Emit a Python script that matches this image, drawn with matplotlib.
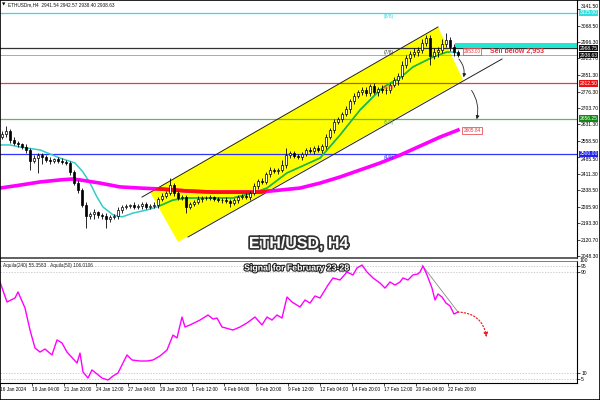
import matplotlib
matplotlib.use('Agg')
import matplotlib.pyplot as plt
import matplotlib.patheffects as pe
import matplotlib.transforms as mtransforms
from matplotlib.patches import Polygon, Rectangle

plt.rcParams['font.family'] = ['Liberation Sans', 'DejaVu Sans']

# ---- ETH/USD H4 data (x in 4h-bar units, one candle per 8h) ----
first_open = 2575
closes = [2589, 2602, 2562, 2549, 2544, 2531, 2518, 2469, 2482, 2496,
          2487, 2473, 2469, 2478, 2469, 2465, 2460, 2420, 2371, 2340,
          2274, 2225, 2234, 2243, 2230, 2225, 2212, 2221, 2225, 2252,
          2265, 2269, 2274, 2265, 2269, 2278, 2265, 2269, 2274, 2300,
          2314, 2327, 2363, 2327, 2305, 2309, 2265, 2278, 2287, 2300,
          2305, 2305, 2309, 2300, 2296, 2296, 2292, 2283, 2296, 2309,
          2314, 2309, 2327, 2358, 2380, 2376, 2411, 2429, 2425, 2429,
          2451, 2496, 2504, 2491, 2487, 2500, 2518, 2513, 2527, 2518,
          2535, 2575, 2606, 2642, 2655, 2677, 2699, 2735, 2757, 2775,
          2784, 2770, 2802, 2775, 2788, 2784, 2784, 2806, 2828, 2846,
          2895, 2926, 2943, 2952, 2961, 2992, 3014, 2934, 2952, 2961,
          2988, 3005, 2974, 2952, 2939]
wick_up = [15, 20, 8, 12, 10, 6, 14, 9, 12, 7,
           10, 8, 12, 6, 9, 11, 7, 10, 8, 14,
           9, 12, 8, 15, 6, 10, 12, 9, 7, 11,
           8, 10, 6, 12, 9, 7, 10, 8, 11, 9,
           12, 10, 31, 8, 11, 9, 7, 10, 8, 12,
           9, 7, 10, 6, 11, 8, 12, 9, 7, 10,
           8, 11, 9, 14, 10, 12, 8, 15, 10, 9,
           22, 30, 9, 8, 11, 10, 9, 13, 8, 15,
           10, 12, 9, 14, 11, 10, 13, 9, 12, 10,
           14, 11, 9, 12, 10, 16, 13, 10, 15, 12,
           18, 14, 12, 20, 15, 18, 13, 12, 16, 14,
           22, 31, 15, 12, 8]
wick_dn = [10, 12, 15, 8, 11, 9, 13, 40, 10, 65,
           30, 9, 12, 10, 8, 11, 9, 13, 10, 12,
           10, 53, 12, 20, 12, 14, 42, 12, 9, 11,
           12, 8, 10, 9, 11, 13, 8, 10, 9, 12,
           10, 8, 9, 12, 10, 8, 27, 11, 9, 10,
           12, 8, 10, 9, 11, 13, 10, 18, 9, 12,
           10, 8, 11, 9, 12, 10, 8, 14, 10, 12,
           9, 11, 13, 10, 8, 12, 10, 9, 11, 10,
           14, 12, 10, 15, 11, 13, 10, 18, 12, 10,
           15, 12, 14, 10, 16, 12, 18, 14, 10, 20,
           15, 14, 18, 12, 16, 14, 12, 40, 15, 20,
           14, 12, 18, 16, 10]

# moving averages (fast = turquoise, slow = magenta)
ma_fast_x = [0, 5, 10, 20, 30, 37.5, 41.5, 45, 48.5, 51.5, 56.5, 61, 66.5, 73.5, 78.5, 86.5,
             93.5, 103.5, 116.5, 126.5, 133.5, 143.5, 150, 160, 170, 180, 190, 193.5, 200,
             206.5, 211.5, 216.5, 223.5, 226, 228.5]
ma_fast = [2540, 2540, 2531, 2518, 2482, 2460, 2420, 2371, 2309, 2265, 2230, 2221, 2238, 2252,
           2265, 2296, 2305, 2305, 2305, 2327, 2349, 2416, 2442, 2482, 2584, 2695, 2784, 2806,
           2837, 2886, 2908, 2930, 2952, 2952, 2948]
ma_slow_x = [0, 10, 20, 30, 36, 40, 50, 60, 70, 80, 93.5, 106.5, 120, 130, 140, 150, 160, 170,
             180, 190, 200, 210, 220, 229]
ma_slow = [2349, 2362, 2376, 2385, 2389, 2385, 2371, 2354, 2349, 2345, 2336, 2331, 2331, 2331,
           2340, 2349, 2371, 2398, 2429, 2460, 2495, 2535, 2575, 2606]

# Aquila oscillator
osc_x = [0, 3.5, 7.5, 9, 12.5, 15, 17.5, 20, 22.5, 26, 28.5, 31, 33.5, 38.5, 40, 41.5, 44, 46,
         48.5, 51, 54, 56.5, 59, 63.5, 66, 70, 73.5, 76.5, 80, 83.5, 86.5, 88.5, 91, 92.5, 95,
         100, 104, 106.5, 108.5, 111, 116.5, 120, 123.5, 127.5, 131, 133.5, 136, 138.5, 141,
         143.5, 146, 150, 152.5, 155, 157.5, 160, 162.5, 164, 166.5, 170, 173.5, 176.5, 178.5,
         181, 183.5, 186.5, 190, 192.5, 195, 197.5, 200, 201.5, 204, 206.5, 209, 210, 211.5,
         213.5, 216, 217.5, 219, 221, 223, 225, 227, 229]
osc = [82.3, 66.4, 69.6, 74.4, 61.7, 44.2, 29.9, 26.7, 29.1, 24.4,
       36.3, 33.9, 26.7, 18.0, 25.9, 10.9, 6.1, 12.5, 9.3, 6.1,
       4.5, 7.7, 10.1, 24.4, 20.4, 19.6, 19.6, 20.4, 23.6, 28.3,
       40.2, 37.9, 54.5, 46.6, 48.2, 52.1, 56.1, 52.9, 53.7, 46.6,
       44.2, 46.6, 49.8, 54.5, 48.2, 54.5, 52.1, 56.1, 53.7, 70.4,
       66.4, 62.5, 68.0, 65.6, 71.2, 69.6, 76.0, 79.9, 85.5, 83.9,
       90.2, 87.9, 93.4, 95.8, 90.2, 85.5, 81.5, 77.5, 82.3, 79.9,
       82.3, 85.5, 83.9, 87.9, 88.7, 90.2, 95.0, 87.9, 77.5, 68.0,
       72.8, 70.4, 65.6, 63.3, 56.9, 58.5]

# Murrey math levels
murrey_levels = [3125.00, 2968.75, 2812.50, 2656.25, 2500.00]
murrey_names = ['(8/8)', '(7/8)', '(6/8)', '(5/8)', '(4/8)']
murrey_colors = ['#33dddd', '#333333', '#e04040', '#66b266', '#3333ff']
last_price = 2938.63

# ascending channel
chan_upper_x = [71, 219]
chan_upper_p = [2309, 3063]
chan_lower_x = [94, 251]
chan_lower_p = [2132, 2921]
chan_fill_x = [75, 219, 231.5, 89]
chan_fill_p = [2331, 3063, 2828, 2110]

price_ticks = [3141.50, 3068.50, 2996.30, 2923.70, 2851.30, 2776.30, 2703.70, 2631.30,
               2558.50, 2485.50, 2411.30, 2338.50, 2265.90, 2193.30, 2120.70, 2048.30]
osc_ticks = [95, 90, 10, 5]
time_ticks = [0, 16, 32, 48, 64, 80, 96, 112, 128, 144, 160, 176, 192, 208, 224]
time_labels = ['16 Jan 2024', '19 Jan 04:00', '21 Jan 20:00', '24 Jan 12:00', '27 Jan 04:00',
               '29 Jan 20:00', '1 Feb 12:00', '4 Feb 04:00', '6 Feb 20:00', '9 Feb 12:00',
               '12 Feb 04:00', '14 Feb 20:00', '17 Feb 12:00', '20 Feb 04:00', '22 Feb 20:00']

sell_level = 2953.00
target_level = 2605.84

fig = plt.figure(figsize=(6, 4), dpi=100)
ax = fig.add_axes([0, 1 - 258 / 400, 577 / 600, 258 / 400])
ax2 = fig.add_axes([0, 1 - 383 / 400, 577 / 600, 122 / 400])

xmax = 577 / 2
ax.set_xlim(0, xmax)
ax.set_ylim(2038.9, 3182.6)
ax2.set_xlim(0, xmax)
ax2.set_ylim(2.14, 98.97)

# channel fill
chan = Polygon(list(zip(chan_fill_x, chan_fill_p)), closed=True, fc='#ffff00', ec='none', zorder=1)
ax.add_patch(chan)
ax.plot(chan_upper_x, chan_upper_p, color='#222222', lw=0.7, zorder=3)
ax.plot(chan_lower_x, chan_lower_p, color='#222222', lw=0.7, zorder=3)

# Murrey lines and labels
for lev, name, col in zip(murrey_levels, murrey_names, murrey_colors):
    ax.axhline(lev, color=col, lw=0.9, zorder=2)
    ax.text(192, lev - 6, name, color=col, fontsize=3.6, va='top', ha='left', zorder=5)
ax.axhline(last_price, color='#aaaaaa', lw=0.7, zorder=2)
ax.add_patch(Rectangle((227.5, murrey_levels[1]), xmax - 227.5, 22, fc='#22e6d2', ec='none', zorder=2))

# moving averages, colour changes where they cross the yellow channel
l1, = ax.plot(ma_fast_x, ma_fast, color='#33cccc', lw=1.1, zorder=3)
l2, = ax.plot(ma_fast_x, ma_fast, color='#22bb22', lw=1.1, zorder=3)
l2.set_clip_path(chan)
m1, = ax.plot(ma_slow_x, ma_slow, color='#ff00ff', lw=2.6, zorder=3)
m2, = ax.plot(ma_slow_x, ma_slow, color='#ff1010', lw=2.6, zorder=3)
m2.set_clip_path(chan)

# candles
opens = [first_open] + closes[:-1]
for j, (o, c) in enumerate(zip(opens, closes)):
    x = 2 * j + 1
    hi = max(o, c) + wick_up[j]
    lo = min(o, c) - wick_dn[j]
    ax.vlines(x, lo, hi, color='black', lw=0.6, zorder=4)
    fc = 'black' if c < o else 'white'
    ax.add_patch(Rectangle((x - 0.5, min(o, c)), 1.0, max(abs(c - o), 1.5),
                           fc=fc, ec='black', lw=0.5, zorder=4))

# arrows towards targets
ax.annotate('', xy=(231.5, 2828), xytext=(228.5, 2930),
            arrowprops=dict(arrowstyle='-|>', color='#222222', lw=0.6,
                            mutation_scale=5, connectionstyle='arc3,rad=-0.3'), zorder=5)
ax.annotate('', xy=(238, 2642), xytext=(235, 2792),
            arrowprops=dict(arrowstyle='-|>', color='#222222', lw=0.6,
                            mutation_scale=5, connectionstyle='arc3,rad=-0.25'), zorder=5)

ax.text(245, sell_level, 'Sell below 2,953', color='#e8303a', fontsize=5, fontweight='bold',
        va='center', ha='left', zorder=6)
for px, lev in [(236, sell_level), (236, target_level)]:
    ax.text(px, lev, '%.2f' % lev, color='#e8303a', fontsize=3.4, va='center', ha='center',
            bbox=dict(boxstyle='square,pad=0.2', fc='white', ec='#e8303a', lw=0.5), zorder=6)

ax.text(149.5, 2103, 'ETH/USD, H4', color='white', fontsize=11.5, fontweight='bold',
        ha='center', va='center', zorder=6,
        path_effects=[pe.withStroke(linewidth=2.5, foreground='#333333')])

# price axis on the right
ax.yaxis.tick_right()
ax.set_yticks(price_ticks)
ax.set_yticklabels(['%.2f' % t for t in price_ticks])
ax.tick_params(axis='y', labelsize=3.6, length=2, width=0.5, pad=1)
ylbls = ax.get_yticklabels()
ylbls[0].set_verticalalignment('bottom')   # keep clear of the 8/8 box
ylbls[9].set_verticalalignment('top')      # keep clear of the 4/8 box
ax.set_xticks([])
trans = mtransforms.blended_transform_factory(ax.transAxes, ax.transData)
box_labels = [(murrey_levels[0], '#33dddd'), (murrey_levels[1], '#111111'),
              (last_price, '#111111'), (murrey_levels[2], '#ee1111'),
              (murrey_levels[3], '#118811'), (murrey_levels[4], '#2222ee')]
for lev, col in box_labels:
    ax.text(1.004, lev, '%.2f' % lev, transform=trans, color='white', fontsize=3.6,
            va='center', ha='left', clip_on=False, zorder=7,
            bbox=dict(boxstyle='square,pad=0.15', fc=col, ec='none'))

for sp in ['left', 'top']:
    ax.spines[sp].set_visible(False)
ax.spines['right'].set_linewidth(0.8)
ax.spines['bottom'].set_linewidth(1.2)
ax.spines['bottom'].set_color('#444444')

# oscillator panel
for lev in osc_ticks:
    ax2.axhline(lev, color='#bbbbbb', lw=0.5, ls=(0, (2, 2)), zorder=1)
ax2.plot(osc_x, osc, color='#ff00ff', lw=1.0, zorder=3)
ax2.plot([211, 229], [95.8, 58.5], color='#888888', lw=0.6, zorder=2)
ax2.annotate('', xy=(243.5, 36.3), xytext=(227.5, 58.5),
             arrowprops=dict(arrowstyle='-|>', color='#ee2020', lw=0.9, ls=':',
                             mutation_scale=6, connectionstyle='arc3,rad=-0.45'), zorder=4)
ax2.text(148.5, 93.4, 'Signal for February 23-28', color='white', fontsize=6.3,
         fontweight='bold', ha='center', va='center', zorder=6,
         path_effects=[pe.withStroke(linewidth=1.6, foreground='#222222')])
ax2.text(0.005, 0.985, 'Aquila(240) 55.3583   Aquila(50) 106.0106', transform=ax2.transAxes,
         fontsize=3.4, va='top', ha='left', color='#222222')

ax2.yaxis.tick_right()
ax2.set_yticks(osc_ticks)
ax2.set_yticklabels([str(t) for t in osc_ticks])
ax2.tick_params(axis='y', labelsize=3.6, length=2, width=0.5, pad=1)
ax2.text(1.004, 1.0, '100', transform=ax2.transAxes, fontsize=3.6, va='center', ha='left')
ax2.set_xticks(time_ticks)
ax2.set_xticklabels(time_labels)
ax2.tick_params(axis='x', labelsize=3.4, length=2, width=0.5, pad=1)
for lbl in ax2.get_xticklabels():
    lbl.set_horizontalalignment('left')
ax2.spines['left'].set_visible(False)
ax2.spines['top'].set_color('#666666')
ax2.spines['top'].set_linewidth(0.6)
ax2.spines['right'].set_linewidth(0.8)
ax2.spines['bottom'].set_linewidth(0.8)

# header line
fig.text(2 / 600, 1 - 5 / 400, '\u25bc', fontsize=3.2, va='center', ha='left',
         family=['DejaVu Sans'])
fig.text(8 / 600, 1 - 5 / 400, 'ETHUSDm,H4  2941.54 2942.57 2938.40 2938.63',
         fontsize=3.4, va='center', ha='left', color='#111111')

fig.patches.append(Rectangle((0, 0), 1, 1, transform=fig.transFigure, fill=False,
                             ec='black', lw=1.2))

fig.savefig('out.png', dpi=100)
